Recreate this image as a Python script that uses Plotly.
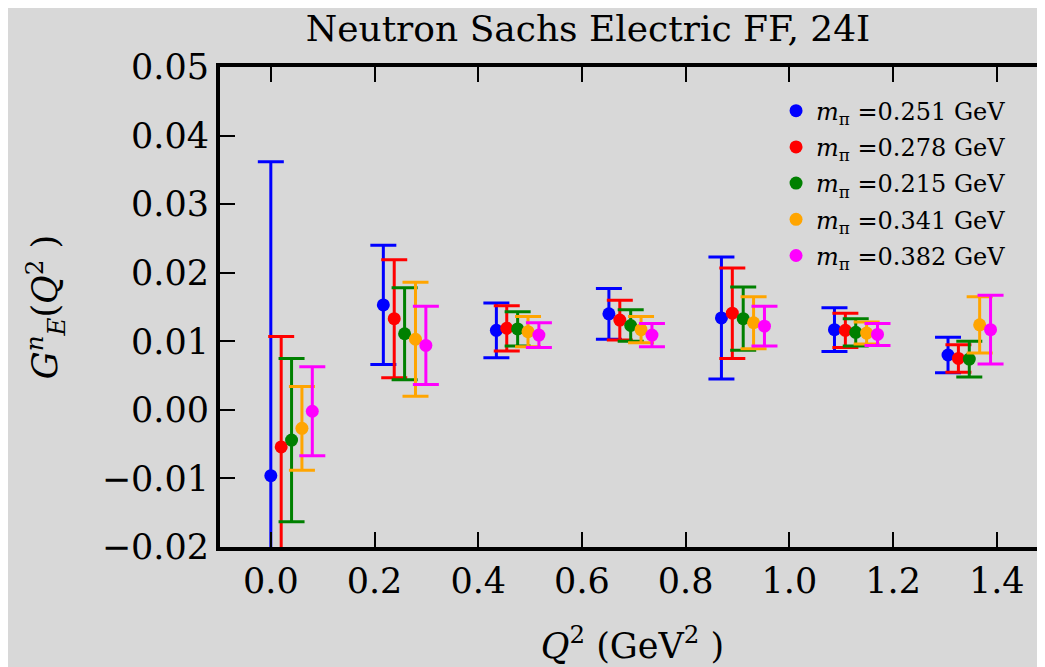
import plotly.graph_objects as go

labels = ["0.251", "0.278", "0.215", "0.341", "0.382"]
colors = ["blue", "red", "green", "orange", "magenta"]

q2_blue = [0.000, 0.217, 0.435, 0.652, 0.869, 1.087, 1.306]
q2_red = [0.020, 0.238, 0.455, 0.673, 0.890, 1.108, 1.326]
q2_green = [0.040, 0.258, 0.476, 0.694, 0.911, 1.128, 1.347]
q2_orange = [0.060, 0.279, 0.496, 0.714, 0.931, 1.149, 1.367]
q2_magenta = [0.080, 0.299, 0.517, 0.735, 0.952, 1.170, 1.388]

ge_blue = [-0.0096, 0.0153, 0.0116, 0.0140, 0.0134, 0.0117, 0.0080]
ge_red = [-0.0054, 0.0133, 0.0119, 0.0131, 0.0141, 0.0116, 0.0075]
ge_green = [-0.0044, 0.0111, 0.0118, 0.0123, 0.0133, 0.0113, 0.0074]
ge_orange = [-0.0027, 0.0103, 0.0114, 0.0117, 0.0127, 0.0112, 0.0124]
ge_magenta = [-0.0002, 0.0094, 0.0109, 0.0109, 0.0122, 0.0110, 0.0117]

err_blue = [0.0458, 0.0087, 0.0040, 0.0037, 0.0089, 0.0032, 0.0026]
err_red = [0.0161, 0.0086, 0.0033, 0.0029, 0.0066, 0.0025, 0.0020]
err_green = [0.0119, 0.0067, 0.0025, 0.0023, 0.0046, 0.0020, 0.0026]
err_orange = [0.0061, 0.0083, 0.0022, 0.0019, 0.0038, 0.0016, 0.0041]
err_magenta = [0.0065, 0.0057, 0.0018, 0.0017, 0.0029, 0.0016, 0.0050]

xs = [q2_blue, q2_red, q2_green, q2_orange, q2_magenta]
ys = [ge_blue, ge_red, ge_green, ge_orange, ge_magenta]
es = [err_blue, err_red, err_green, err_orange, err_magenta]

x_ticks = [0.0, 0.2, 0.4, 0.6, 0.8, 1.0, 1.2, 1.4]
x_ticktext = ["0.0", "0.2", "0.4", "0.6", "0.8", "1.0", "1.2", "1.4"]
y_ticks = [-0.02, -0.01, 0.0, 0.01, 0.02, 0.03, 0.04, 0.05]
y_ticktext = ["\u22120.02", "\u22120.01", "0.00", "0.01", "0.02", "0.03", "0.04", "0.05"]

BG = "#d8d8d8"
SERIF = "DejaVu Serif"

fig = go.Figure()
for lab, col, x, y, e in zip(labels, colors, xs, ys, es):
    fig.add_trace(go.Scatter(
        x=x, y=y, mode="markers",
        name="<i>m</i><sub>π</sub> =" + lab + " GeV",
        legendgroup=lab,
        marker=dict(color=col, size=13, line=dict(width=0)),
        error_y=dict(type="data", array=e, visible=True, color=col,
                     thickness=3, width=13),
        cliponaxis=True,
    ))

fig.update_layout(
    width=1045, height=667,
    paper_bgcolor=BG, plot_bgcolor=BG,
    margin=dict(l=212, r=8, t=59, b=128, autoexpand=False),
    font=dict(family=SERIF, color="black", size=35),
    title=dict(text="Neutron Sachs Electric FF, 24I",
               x=580 / 1045, xref="container", xanchor="center",
               y=1 - 20 / 667, yref="container", yanchor="middle",
               font=dict(family=SERIF, size=36)),
    showlegend=True,
    legend=dict(x=0.674, y=0.955, xanchor="left", yanchor="top",
                bgcolor="rgba(0,0,0,0)", borderwidth=0,
                font=dict(family=SERIF, size=24),
                tracegroupgap=2, itemwidth=30),
    xaxis=dict(range=[-0.098, 1.493], tickvals=x_ticks, ticktext=x_ticktext,
               automargin=False,
               showgrid=False, zeroline=False,
               showline=True, linecolor="black", linewidth=4, mirror="ticks",
               ticks="inside", ticklen=15, tickwidth=2, tickcolor="black",
               tickfont=dict(family=SERIF, size=35),
               title=dict(text="<i>Q</i><sup>2</sup> (GeV<sup>2</sup> )", standoff=34,
                          font=dict(family=SERIF, size=35))),
    yaxis=dict(range=[-0.02, 0.05], tickvals=y_ticks, ticktext=y_ticktext,
               automargin=False,
               showgrid=False, zeroline=False,
               showline=True, linecolor="black", linewidth=4,
               ticks="inside", ticklen=15, tickwidth=2, tickcolor="black",
               tickfont=dict(family=SERIF, size=35),
               title=dict(text="<i>G</i><sup><i>n</i></sup><sub><i>E</i></sub>(<i>Q</i><sup>2</sup> )",
                          standoff=34, font=dict(family=SERIF, size=35))),
    yaxis2=dict(range=[-0.02, 0.05], overlaying="y", side="right", anchor="x",
                automargin=False,
                tickvals=y_ticks,
                showticklabels=False, showgrid=False, zeroline=False, showline=False,
                ticks="inside", ticklen=15, tickwidth=2, tickcolor="black"),
)

fig.write_html("out.html")
